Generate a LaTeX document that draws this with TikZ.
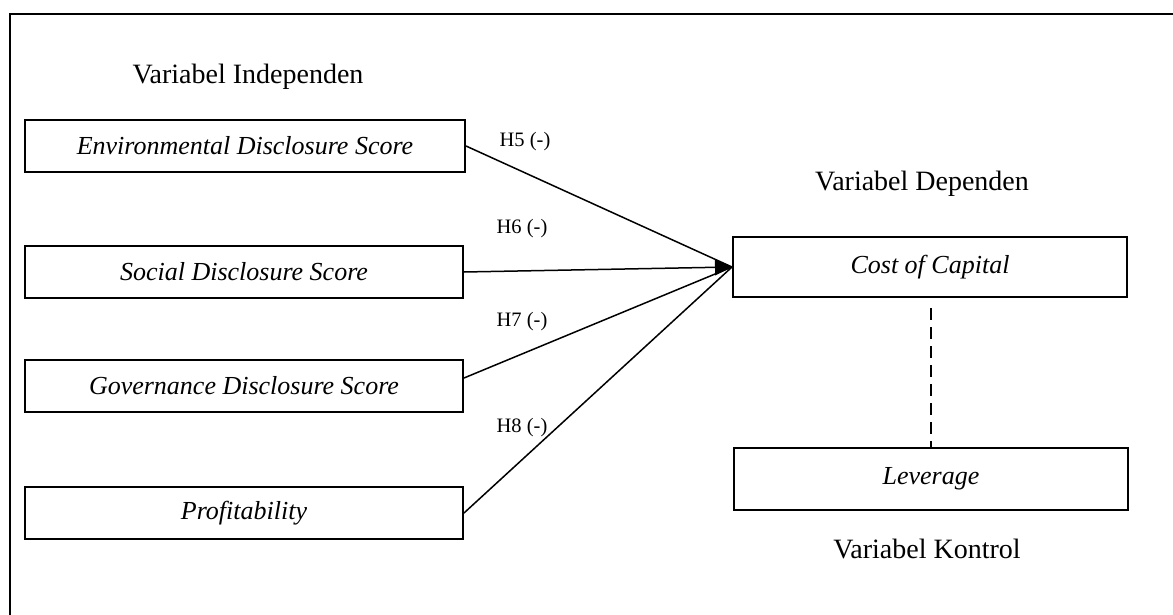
\documentclass[tikz,border=0pt]{standalone}
\usepackage{fontspec}
\setmainfont{Liberation Serif}
\usetikzlibrary{arrows.meta}
\begin{document}
\begin{tikzpicture}[x=1pt,y=-1pt,
  varbox/.style={draw,line width=2pt,minimum height=52pt,inner sep=0pt,
    font=\fontsize{26}{30}\selectfont\itshape},
  title/.style={font=\fontsize{28}{32}\selectfont,inner sep=0pt},
  hlabel/.style={font=\fontsize{20.5}{24}\selectfont,inner sep=0pt},
  link/.style={line width=1.5pt},
  control/.style={line width=2.5pt,dash pattern=on 12pt off 7pt}]
\useasboundingbox (0,0) rectangle (1173,615);
\clip (0,0) rectangle (1173,615);
\draw[line width=2pt] (10,14) rectangle (1190,640);

\node[title] (ti) at (248,77) {Variabel Independen};
\node[title] (td) at (922,184) {Variabel Dependen};
\node[title] (tk) at (927,549) {Variabel Kontrol};

\node[varbox,minimum width=440pt] (env) at (245,146) {Environmental Disclosure Score};
\node[varbox,minimum width=438pt] (soc) at (244,272) {Social Disclosure Score};
\node[varbox,minimum width=438pt] (gov) at (244,386) {Governance Disclosure Score};
\node[varbox,minimum width=438pt] (prof) at (244,513) {Profitability};
\node[varbox,minimum width=394pt,minimum height=60pt] (cost) at (930,267) {Cost of Capital};
\node[varbox,minimum width=394pt,minimum height=62pt] (lev) at (931,479) {Leverage};

\coordinate (tip) at (cost.west);

\draw[link] (env.east) -- (tip);
\draw[link] ([yshift=8pt]gov.east) -- (tip);
\draw[link] (prof.east) -- (tip);
\draw[link,-{Triangle[length=17pt,width=16pt]}] (soc.east) -- (tip);

\draw[control] ([yshift=-10pt,xshift=1pt]cost.south) -- (lev.north);

\node[hlabel] (h5) at (525,142) {H5 (-)};
\node[hlabel] (h6) at (522,229) {H6 (-)};
\node[hlabel] (h7) at (522,322) {H7 (-)};
\node[hlabel] (h8) at (522,428) {H8 (-)};
\end{tikzpicture}
\end{document}
